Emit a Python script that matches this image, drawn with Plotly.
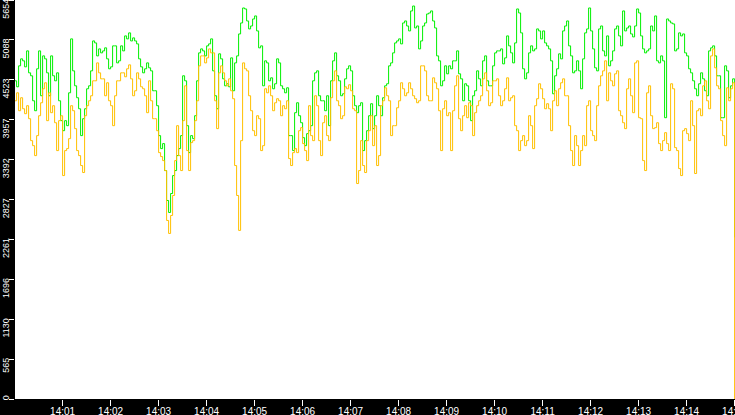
import pandas as pd
import plotly.graph_objects as go

# readings every 5 s from 14:00:00, plus an in-between reading 2.5 s later
start_time = "2024-01-01 14:00:00"
sample_step = "5s"
mid_offset = "2500ms"

green_values = [
    4509, 4721, 4792, 4933, 4580, 4085, 4933, 4862, 4622, 4862,
    4509, 4226, 3802, 3873, 5103, 4438, 4113, 3972, 4396, 4650,
    5046, 4961, 4933, 4820, 4707, 5004, 4792, 4933, 5103, 5074,
    5074, 4820, 4622, 4763, 4650, 4368, 3732, 3619, 2813, 2912,
    3237, 3548, 4580, 3873, 3732, 4014, 4905, 4933, 5004, 5103,
    4297, 4891, 4537, 4467, 4834, 4763, 5173, 5541, 5357, 5286,
    5428, 4976, 4438, 4763, 4551, 4467, 4763, 4396, 4410, 3732,
    4057, 4014, 3703, 3760, 3873, 4622, 4297, 4226, 4297, 4509,
    4905, 4509, 4325, 4679, 4650, 4156, 4156, 3520, 3802, 4184,
    4014, 4156, 4269, 4467, 4763, 5046, 5103, 5329, 5286, 5499,
    5258, 4961, 5286, 5456, 5499, 5258, 4792, 4509, 4608, 4679,
    4792, 4608, 4226, 4438, 3944, 4368, 4537, 4792, 4509, 4438,
    4905, 4933, 4749, 5145, 4905, 5046, 5470, 4679, 4622, 5004,
    4961, 5216, 5216, 5004, 4792, 4580, 4891, 5216, 5357, 4862,
    4650, 4650, 4820, 5244, 5216, 4693, 5244, 4933, 5145, 4792,
    5244, 5145, 5499, 5258, 5173, 5286, 5470, 4961, 4933, 5286,
    5428, 4763, 4792, 5385, 5329, 4933, 5188, 5173, 4862, 4622,
    4396, 4467, 4537, 4297, 4976, 4862, 4580, 3986, 4650, 4438,
    2290,
]

green_mid_values = [
    4424, 4820, 4707, 4622, 4226, 4679, 4297, 4820, 4297, 4580,
    4622, 3944, 3944, 4339, 4650, 4269, 3732, 4113, 4438, 5074,
    4862, 4905, 4976, 4679, 5004, 4763, 5004, 5145, 5188, 5117,
    5032, 4707, 4679, 4693, 4368, 4156, 3548, 3237, 2643, 3166,
    3449, 3732, 4509, 3491, 3689, 4509, 4961, 4862, 5032, 4650,
    4113, 4820, 4438, 4424, 4368, 4862, 5329, 5527, 5244, 5385,
    5216, 5004, 4792, 4509, 4396, 4820, 4438, 4339, 3732, 3520,
    4198, 3915, 3590, 3802, 4509, 4650, 4226, 4085, 3873, 4792,
    4580, 4297, 4537, 4721, 4297, 4057, 4198, 3661, 4014, 3831,
    4297, 4014, 4438, 4721, 4905, 5074, 5032, 5357, 5216, 5569,
    5286, 5074, 5329, 5470, 5357, 4862, 4438, 4721, 4721, 4792,
    4933, 4537, 4467, 4226, 4297, 4650, 4438, 4862, 4438, 4721,
    4933, 4961, 4834, 5004, 4763, 5527, 5188, 4537, 4905, 4933,
    5244, 5103, 5046, 4961, 4325, 4679, 4820, 5286, 5004, 4622,
    4792, 4396, 5188, 5541, 4961, 4650, 5286, 4862, 4721, 4933,
    5286, 5004, 5216, 5286, 5131, 5527, 5145, 4905, 4961, 5216,
    4792, 4862, 3986, 5357, 5315, 4961, 5145, 4905, 4679, 4509,
    4297, 4622, 4368, 4933, 5004, 4580, 3986, 4721, 4269, 4537,
]

yellow_values = [
    4226, 4085, 4113, 4156, 3661, 3449, 4014, 4396, 3944, 4057,
    3915, 3944, 3166, 3548, 4156, 3831, 3449, 3209, 4156, 4297,
    4509, 4622, 4537, 4481, 4156, 4297, 4509, 4622, 4679, 4537,
    4368, 4537, 4396, 4057, 4226, 3972, 3491, 3378, 2530, 2601,
    3378, 3449, 3944, 3520, 3633, 3944, 4721, 4862, 4834, 4905,
    4226, 4622, 4622, 4438, 4368, 3308, 2389, 4763, 4650, 4085,
    3732, 3972, 3590, 4339, 4297, 4198, 4226, 4156, 4226, 3308,
    3548, 3802, 3619, 3378, 3732, 4297, 3661, 3915, 3732, 4269,
    4650, 4156, 4014, 4396, 4368, 4085, 3237, 3308, 3661, 4014,
    3873, 3449, 4226, 4297, 3732, 3873, 4226, 4396, 4339, 4396,
    4255, 4226, 4721, 4297, 4226, 4481, 4085, 4113, 4014, 3520,
    4438, 3972, 4014, 3986, 4156, 4057, 4226, 4537, 4368, 4198,
    4509, 4297, 4226, 4551, 4269, 3873, 3520, 3732, 3661, 3873,
    4156, 4467, 4255, 4184, 3802, 4368, 4396, 4537, 4297, 3520,
    3732, 3308, 3732, 4156, 3802, 3661, 4438, 4650, 4226, 4509,
    4608, 4085, 3915, 4396, 4297, 4763, 3986, 3378, 4339, 4014,
    3845, 3619, 3661, 3619, 4467, 3562, 3265, 3802, 3760, 4226,
    3195, 4113, 4438, 4226, 4862, 4693, 4396, 3732, 4410, 4396,
    0,
]

yellow_mid_values = [
    4339, 4269, 4043, 3972, 3590, 3732, 4198, 4481, 4339, 4156,
    3520, 4014, 3520, 3689, 4085, 3520, 3308, 4014, 4226, 4509,
    4763, 4537, 4297, 4226, 3873, 4509, 4622, 4566, 4735, 4297,
    4622, 4424, 4297, 4509, 3972, 3802, 3435, 3237, 2346, 2884,
    3873, 3237, 4438, 3237, 3661, 4226, 4862, 4763, 4961, 4905,
    3831, 4721, 4509, 4537, 4255, 2884, 3661, 4679, 4297, 3802,
    4014, 3520, 4396, 4438, 4085, 4255, 4014, 4113, 3407, 3491,
    3491, 3845, 3520, 4156, 3661, 4156, 3449, 4014, 3661, 4509,
    4226, 3972, 4424, 4453, 4113, 3053, 3661, 3209, 3802, 3590,
    3308, 4156, 4410, 4226, 3873, 4127, 4481, 4297, 4481, 4297,
    4198, 4721, 4650, 4226, 4551, 4396, 3520, 4226, 4057, 4085,
    4580, 3802, 4156, 4198, 3732, 4156, 4297, 4622, 4156, 4509,
    4537, 4156, 4396, 4226, 4297, 3802, 3661, 3590, 4014, 3548,
    4255, 4396, 4113, 4113, 4226, 4156, 4481, 4297, 3873, 3308,
    3590, 3520, 3590, 4226, 3732, 4156, 4580, 4792, 4622, 4438,
    4650, 4014, 3831, 4537, 4057, 4792, 3972, 3237, 4438, 3831,
    3915, 3520, 3774, 3520, 4396, 3520, 3166, 3831, 3661, 3873,
    4085, 4014, 4509, 4113, 4961, 4438, 3944, 3590, 4226, 4481,
]

y_ticks = [0, 565, 1130, 1696, 2261, 2827, 3392, 3957, 4523, 5088, 5654]


def merge_series(values, mid_values):
    t = pd.date_range(start_time, periods=len(values), freq=sample_step)
    t_mid = t[:len(mid_values)] + pd.Timedelta(mid_offset)
    s = pd.concat([pd.Series(values, index=t), pd.Series(mid_values, index=t_mid)])
    return s.sort_index()


green = merge_series(green_values, green_mid_values)
yellow = merge_series(yellow_values, yellow_mid_values)

# pad labels with figure spaces so the top end of each label sits on its tick
# (the 0 label is pushed up so it stays above the bottom bar)
y_labels = []
for v in y_ticks:
    s = str(v)
    if v == 0:
        y_labels.append("\u2007" * 4 + s)
    else:
        y_labels.append("\u2007" * (4 - len(s)) + s)

fig = go.Figure()
fig.add_trace(go.Scatter(x=green.index, y=green.values, mode="lines", line_shape="hv",
                         line=dict(color="#00f000", width=1), hoverinfo="skip"))
fig.add_trace(go.Scatter(x=yellow.index, y=yellow.values, mode="lines", line_shape="hv",
                         line=dict(color="#ffc000", width=1), hoverinfo="skip"))

fig.update_layout(
    width=735, height=415,
    margin=dict(l=15, r=0, t=0, b=16, pad=0),
    paper_bgcolor="black", plot_bgcolor="white",
    showlegend=False,
    font=dict(family="Liberation Sans", color="white", size=10),
)
fig.update_xaxes(
    type="date", range=["2024-01-01 14:00:00.5", "2024-01-01 14:15:00.5"],
    tick0="2024-01-01 14:00:00", dtick=60000, tickformat="%H:%M",
    ticks="outside", ticklen=6, tickcolor="white", tickwidth=1,
    ticklabelstandoff=-3, ticklabeloverflow="allow",
    showgrid=False, zeroline=False, showline=False, automargin=False,
    tickfont=dict(size=10, color="white"),
)
fig.update_yaxes(
    range=[0, 5654], tickmode="array", tickvals=y_ticks, ticktext=y_labels,
    tickangle=-90, ticklabelshift=10, ticklabelstandoff=-4,
    ticklabeloverflow="allow",
    ticks="outside", ticklen=5, tickcolor="white", tickwidth=1,
    showgrid=False, zeroline=False, showline=False, automargin=False,
    tickfont=dict(size=9, color="white"),
)

# the page body has a default 8px margin; drop it so the chart fills the window
fig.write_html("out.html", config={"displayModeBar": False},
               post_script="document.body.style.margin='0';")
